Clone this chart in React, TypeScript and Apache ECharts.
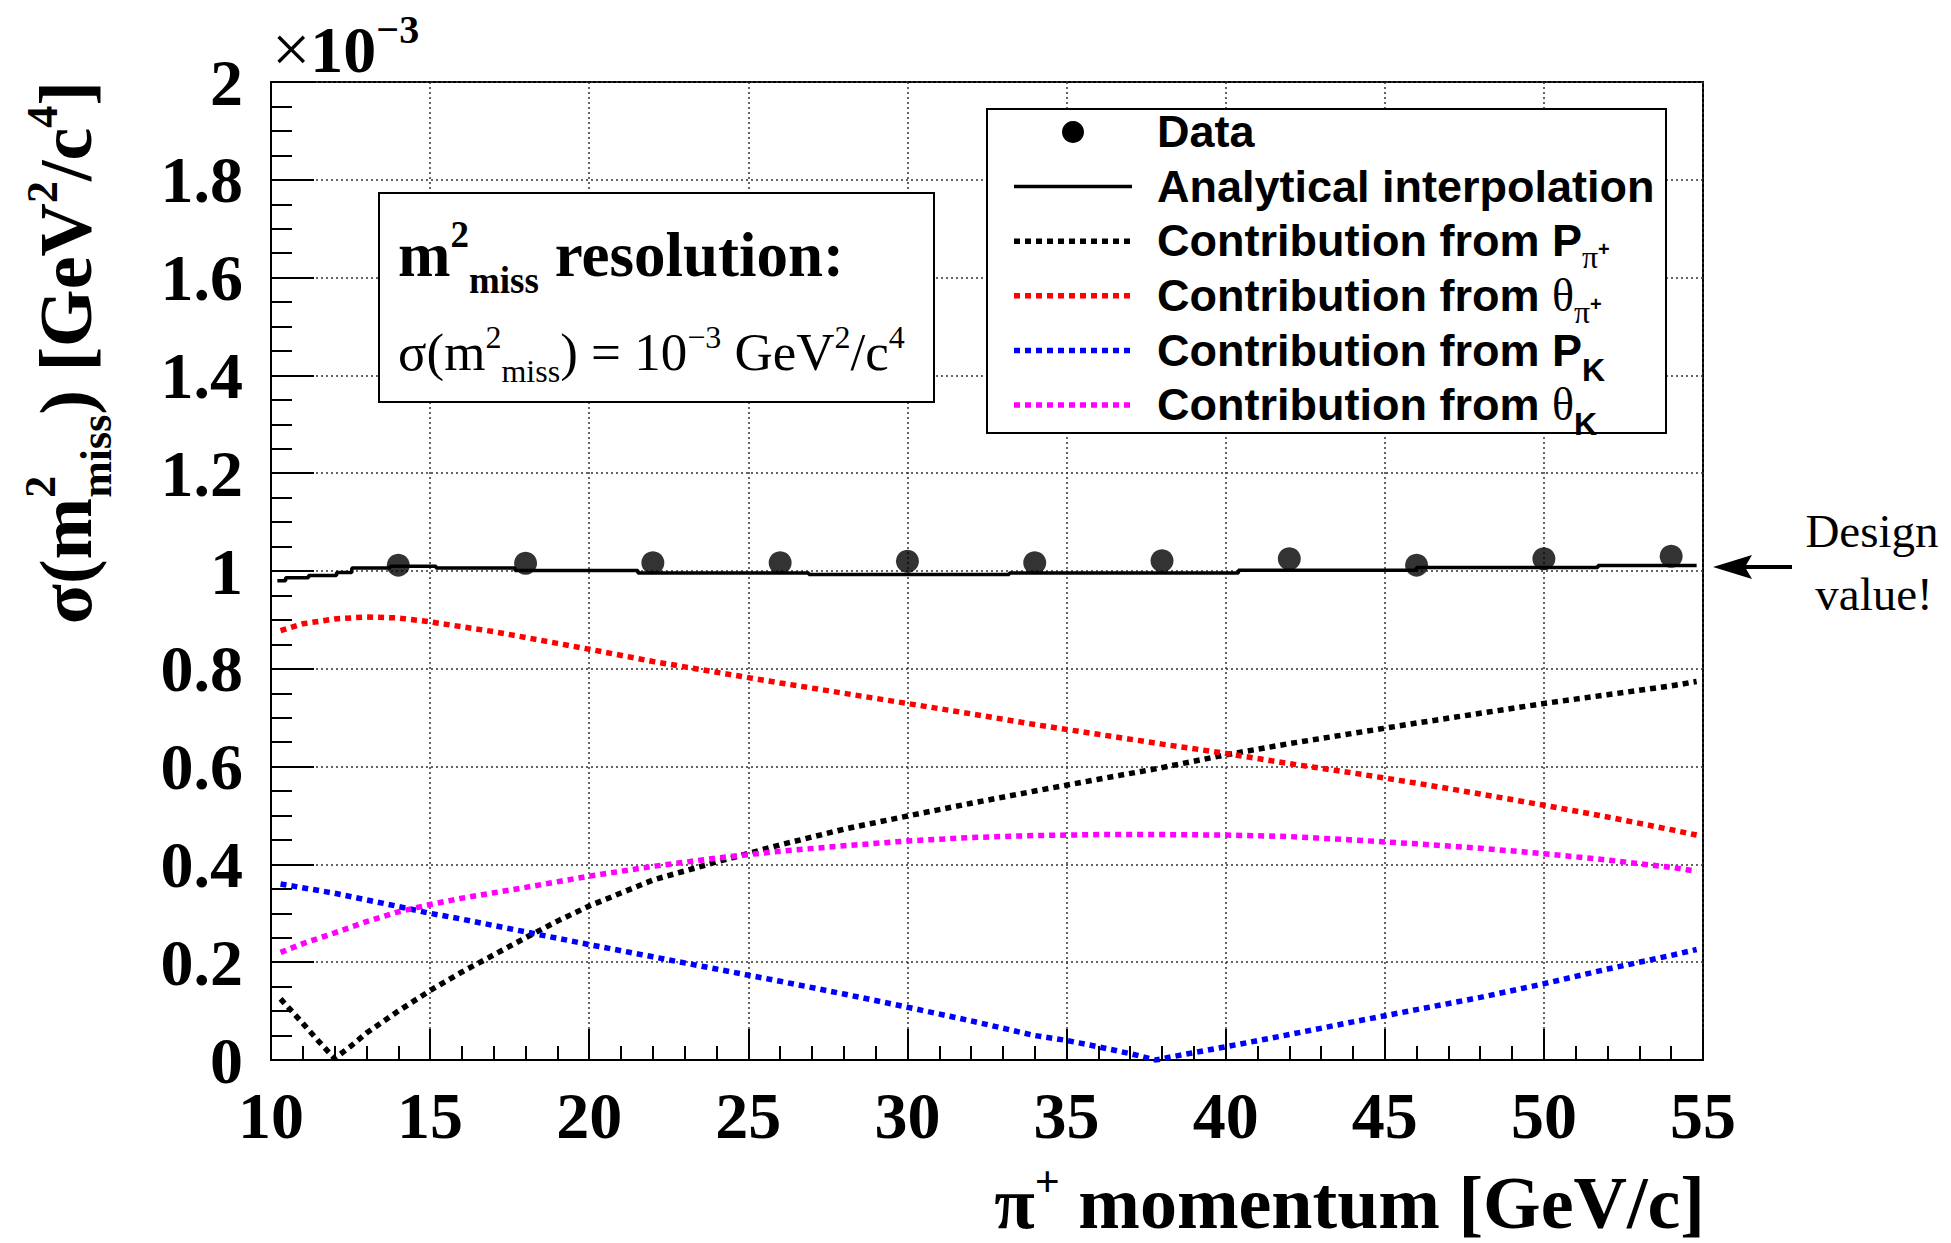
import React, { useEffect, useRef } from 'react';
import * as echarts from 'echarts';

// ---------------- data ----------------
const X_MIN = 10;
const X_MAX = 55;
const X_STEP = 5;
const Y_MIN = 0;
const Y_MAX = 2;
const Y_STEP = 0.2;

const DATA_X = [14, 18, 22, 26, 30, 34, 38, 42, 46, 50, 54];
const DATA_Y = [1.012, 1.016, 1.017, 1.017, 1.02, 1.017, 1.021, 1.025, 1.012, 1.025, 1.03];

const INTERP_X = [10.2, 10.46, 11.18, 12.06, 12.54, 13.74, 15.19, 17.67, 21.53, 26.9, 33.2, 40.4, 46.0, 51.7, 54.8];
const INTERP_Y = [0.98, 0.986, 0.991, 0.997, 1.006, 1.0095, 1.006, 1.001, 0.996, 0.993, 0.996, 1.0015, 1.007, 1.011, 1.011];

const P_PI_X = [10.3, 11, 11.5, 12, 12.5, 13, 14, 15, 16, 17, 18, 19, 20, 22, 24, 26, 28, 30, 32, 34, 36, 38, 40, 42, 44, 46, 48, 50, 52, 54, 54.8];
const P_PI_Y = [0.125, 0.075, 0.038, 0.003, 0.028, 0.055, 0.1, 0.142, 0.18, 0.215, 0.25, 0.284, 0.315, 0.368, 0.405, 0.44, 0.472, 0.499, 0.525, 0.55, 0.574, 0.598, 0.624, 0.647, 0.668, 0.689, 0.709, 0.729, 0.747, 0.765, 0.774];

const TH_PI_X = [10.3, 11, 12, 13, 14, 15, 16, 17, 18, 19, 20, 22, 24, 26, 28, 30, 32, 34, 36, 38, 40, 42, 44, 46, 48, 50, 52, 54, 54.8];
const TH_PI_Y = [0.878, 0.892, 0.902, 0.906, 0.904, 0.896, 0.886, 0.876, 0.864, 0.852, 0.84, 0.815, 0.793, 0.771, 0.75, 0.729, 0.708, 0.686, 0.666, 0.646, 0.627, 0.606, 0.587, 0.566, 0.544, 0.521, 0.497, 0.471, 0.46];

const P_K_X = [10.3, 12, 14, 15, 16, 18, 20, 22, 24, 26, 28, 30, 32, 34, 35, 36, 37, 37.8, 38.5, 40, 42, 44, 46, 48, 50, 52, 54, 54.8];
const P_K_Y = [0.36, 0.341, 0.314, 0.3, 0.288, 0.262, 0.236, 0.211, 0.186, 0.161, 0.135, 0.108, 0.08, 0.05, 0.04, 0.027, 0.013, 0.0, 0.009, 0.027, 0.052, 0.078, 0.103, 0.128, 0.156, 0.186, 0.214, 0.226];

const TH_K_X = [10.3, 11, 12, 13, 14, 15, 16, 17, 18, 20, 22, 24, 26, 28, 30, 32, 34, 36, 38, 40, 42, 44, 46, 48, 50, 52, 54, 54.8];
const TH_K_Y = [0.22, 0.238, 0.26, 0.283, 0.303, 0.318, 0.331, 0.342, 0.353, 0.376, 0.396, 0.413, 0.427, 0.438, 0.448, 0.455, 0.459, 0.461, 0.461, 0.46, 0.457, 0.45, 0.442, 0.433, 0.422, 0.409, 0.394, 0.386];

const COLORS = { pPi: '#000000', thPi: '#ff0000', pK: '#0000ff', thK: '#ff00ff' };

// ---------------- text helpers ----------------
const C = 0.34;
const SERIF = "'Liberation Serif', 'Times New Roman', serif";
const SANS = "'Liberation Sans', Arial, sans-serif";

type Piece = { t: string; size: number; off?: number; family?: string; weight?: string; adv?: boolean };

let mctx: CanvasRenderingContext2D | null = null;
function measure(t: string, size: number, family: string, weight: string) {
  if (!mctx) mctx = document.createElement('canvas').getContext('2d');
  mctx!.font = `${weight} ${size}px ${family}`;
  return mctx!.measureText(t).width;
}

function textRun(
  pieces: Piece[], x0: number, base: number, align: 'left' | 'right' | 'center',
  defFamily: string, defWeight: string, rotate = false, z = 101
) {
  const ws = pieces.map((p) => measure(p.t, p.size, p.family ?? defFamily, p.weight ?? defWeight));
  let total = 0;
  pieces.forEach((p, i) => { if (p.adv !== false) total += ws[i]; });
  let s = align === 'left' ? 0 : align === 'right' ? -total : -total / 2;
  const els: any[] = [];
  pieces.forEach((p, i) => {
    const fam = p.family ?? defFamily;
    const wt = p.weight ?? defWeight;
    const off = p.off ?? 0;
    const style = { text: p.t, fontSize: p.size, fontFamily: fam, fontWeight: wt, fill: '#000', align: 'left', verticalAlign: 'middle' };
    if (!rotate) {
      els.push({ type: 'text', x: x0 + s, y: base + off - C * p.size, style, z, silent: true });
    } else {
      els.push({ type: 'text', x: x0 + off - C * p.size, y: base - s, rotation: Math.PI / 2, style, z, silent: true });
    }
    if (p.adv !== false) s += ws[i];
  });
  return els;
}

const DOT_W = 5.5;
const DOT_DASH = [6, 5];

function buildGraphics() {
  const g: any[] = [];
  // x10^-3
  g.push(...textRun([
    { t: '×', size: 68, weight: 'normal' },
    { t: '10', size: 66 },
    { t: '−3', size: 40, off: -29 },
  ], 272, 72, 'left', SERIF, 'bold'));

  // y title (rotated)
  g.push(...textRun([
    { t: 'σ(m', size: 74 },
    { t: '2', size: 44, off: -36, adv: false },
    { t: 'miss', size: 44, off: 20 },
    { t: ') [GeV', size: 74 },
    { t: '2', size: 44, off: -34 },
    { t: '/c', size: 74 },
    { t: '4', size: 44, off: -34 },
    { t: ']', size: 74 },
  ], 91, 81, 'right', SERIF, 'bold', true));

  // x title
  g.push(...textRun([
    { t: 'π', size: 74 },
    { t: '+', size: 44, off: -32 },
    { t: ' momentum [GeV/c]', size: 74 },
  ], 1705, 1228, 'right', SERIF, 'bold'));

  // resolution pave
  g.push({ type: 'rect', shape: { x: 379, y: 193, width: 555, height: 209 }, style: { fill: '#fff', stroke: '#000', lineWidth: 2 }, z: 100, silent: true });
  g.push(...textRun([
    { t: 'm', size: 63 },
    { t: '2', size: 37, off: -29 },
    { t: 'miss', size: 37, off: 17 },
    { t: ' resolution:', size: 63 },
  ], 398, 276, 'left', SERIF, 'bold'));
  g.push(...textRun([
    { t: 'σ(m', size: 53 },
    { t: '2', size: 32, off: -22 },
    { t: 'miss', size: 32, off: 12 },
    { t: ') = 10', size: 53 },
    { t: '−3', size: 32, off: -22 },
    { t: ' GeV', size: 53 },
    { t: '2', size: 32, off: -22 },
    { t: '/c', size: 53 },
    { t: '4', size: 32, off: -22 },
  ], 398, 370, 'left', SERIF, 'normal'));

  // legend
  g.push({ type: 'rect', shape: { x: 987, y: 109, width: 679, height: 324 }, style: { fill: '#fff', stroke: '#000', lineWidth: 2 }, z: 100, silent: true });
  const rowBase = [147, 201.6, 256.2, 310.8, 365.4, 420];
  const lx1 = 1014, lx2 = 1132, tx = 1157;
  g.push({ type: 'circle', shape: { cx: 1073, cy: rowBase[0] - 15, r: 11 }, style: { fill: '#000' }, z: 101, silent: true });
  g.push({ type: 'line', shape: { x1: lx1, y1: rowBase[1] - 15, x2: lx2, y2: rowBase[1] - 15 }, style: { stroke: '#000', lineWidth: 3.5 }, z: 101, silent: true });
  const dashed = [COLORS.pPi, COLORS.thPi, COLORS.pK, COLORS.thK];
  dashed.forEach((c, i) => {
    const y = rowBase[i + 2] - 15;
    g.push({ type: 'line', shape: { x1: lx1, y1: y, x2: lx2, y2: y }, style: { stroke: c, lineWidth: DOT_W, lineDash: DOT_DASH }, z: 101, silent: true });
  });
  const LF = 45;
  g.push(...textRun([{ t: 'Data', size: LF }], tx, rowBase[0], 'left', SANS, 'bold'));
  g.push(...textRun([{ t: 'Analytical interpolation', size: LF }], tx, rowBase[1], 'left', SANS, 'bold'));
  g.push(...textRun([
    { t: 'Contribution from P', size: LF },
    { t: 'π', size: 32, off: 12, family: SERIF, weight: 'normal' },
    { t: '+', size: 20, off: 0 },
  ], tx, rowBase[2], 'left', SANS, 'bold'));
  g.push(...textRun([
    { t: 'Contribution from ', size: LF },
    { t: 'θ', size: 46, family: SERIF, weight: 'normal' },
    { t: 'π', size: 32, off: 12, family: SERIF, weight: 'normal' },
    { t: '+', size: 20, off: 0 },
  ], tx, rowBase[3], 'left', SANS, 'bold'));
  g.push(...textRun([
    { t: 'Contribution from P', size: LF },
    { t: 'K', size: 32, off: 15 },
  ], tx, rowBase[4], 'left', SANS, 'bold'));
  g.push(...textRun([
    { t: 'Contribution from ', size: LF },
    { t: 'θ', size: 46, family: SERIF, weight: 'normal' },
    { t: 'K', size: 32, off: 15 },
  ], tx, rowBase[5], 'left', SANS, 'bold'));

  // design value annotation
  g.push(...textRun([{ t: 'Design', size: 47 }], 1872, 547, 'center', SERIF, 'normal'));
  g.push(...textRun([{ t: 'value!', size: 47 }], 1874, 610, 'center', SERIF, 'normal'));
  g.push({ type: 'polygon', shape: { points: [[1713, 567], [1752, 555], [1745, 567], [1752, 579]] }, style: { fill: '#000' }, z: 101, silent: true });
  g.push({ type: 'line', shape: { x1: 1745, y1: 567, x2: 1792, y2: 567 }, style: { stroke: '#000', lineWidth: 4 }, z: 101, silent: true });
  return g;
}

function pairs(xs: number[], ys: number[]) {
  return xs.map((x, i) => [x, ys[i]]);
}

function contrib(name: string, xs: number[], ys: number[], color: string) {
  return {
    name, type: 'line', data: pairs(xs, ys), symbol: 'none', showSymbol: false, silent: true,
    lineStyle: { color, width: DOT_W, type: DOT_DASH }, z: 3,
  };
}

export default function App() {
  const ref = useRef<HTMLDivElement>(null);
  useEffect(() => {
    document.body.style.margin = '0';
    const chart = echarts.init(ref.current!, null, { renderer: 'svg' });
    const tickStyle = { color: '#000', width: 2 };
    const gridStyle = { color: '#333', width: 1.5, type: [2, 3] };
    const option: any = {
      animation: false,
      backgroundColor: '#fff',
      grid: { left: 271, top: 82, width: 1432, height: 978, show: true, borderColor: '#000', borderWidth: 2, backgroundColor: 'transparent', containLabel: false, outerBoundsMode: 'none' },
      xAxis: {
        type: 'value', min: X_MIN, max: X_MAX, interval: X_STEP,
        axisLine: { show: true, onZero: false, lineStyle: tickStyle },
        axisTick: { show: true, inside: true, length: 31, lineStyle: tickStyle },
        minorTick: { show: true, splitNumber: 5, length: 14, lineStyle: tickStyle },
        axisLabel: { show: true, margin: 22, fontSize: 66, fontFamily: SERIF, fontWeight: 'bold', color: '#000', showMinLabel: true, showMaxLabel: true, hideOverlap: false, formatter: (v: number) => String(v) },
        splitLine: { show: true, lineStyle: gridStyle },
        minorSplitLine: { show: false },
      },
      yAxis: {
        type: 'value', min: Y_MIN, max: Y_MAX, interval: Y_STEP,
        axisLine: { show: true, onZero: false, lineStyle: tickStyle },
        axisTick: { show: true, inside: true, length: 43, lineStyle: tickStyle },
        minorTick: { show: true, splitNumber: 4, length: 21, lineStyle: tickStyle },
        axisLabel: { show: true, margin: 28, fontSize: 66, fontFamily: SERIF, fontWeight: 'bold', color: '#000', showMinLabel: true, showMaxLabel: true, hideOverlap: false, formatter: (v: number) => String(Math.round(v * 10) / 10) },
        splitLine: { show: true, lineStyle: gridStyle },
        minorSplitLine: { show: false },
      },
      series: [
        contrib('Contribution from P_pi+', P_PI_X, P_PI_Y, COLORS.pPi),
        contrib('Contribution from theta_pi+', TH_PI_X, TH_PI_Y, COLORS.thPi),
        contrib('Contribution from P_K', P_K_X, P_K_Y, COLORS.pK),
        contrib('Contribution from theta_K', TH_K_X, TH_K_Y, COLORS.thK),
        {
          name: 'Analytical interpolation', type: 'line', step: 'end', data: pairs(INTERP_X, INTERP_Y),
          symbol: 'none', showSymbol: false, silent: true, lineStyle: { color: '#000', width: 3.5 }, z: 4,
        },
        {
          name: 'Data', type: 'scatter', data: pairs(DATA_X, DATA_Y), symbol: 'circle', symbolSize: 23,
          itemStyle: { color: '#000' }, silent: true, z: 5,
        },
      ],
      graphic: buildGraphics(),
    };
    chart.setOption(option);
    return () => chart.dispose();
  }, []);
  return <div ref={ref} style={{ position: 'absolute', left: 0, top: 0, width: 1951, height: 1243 }} />;
}
